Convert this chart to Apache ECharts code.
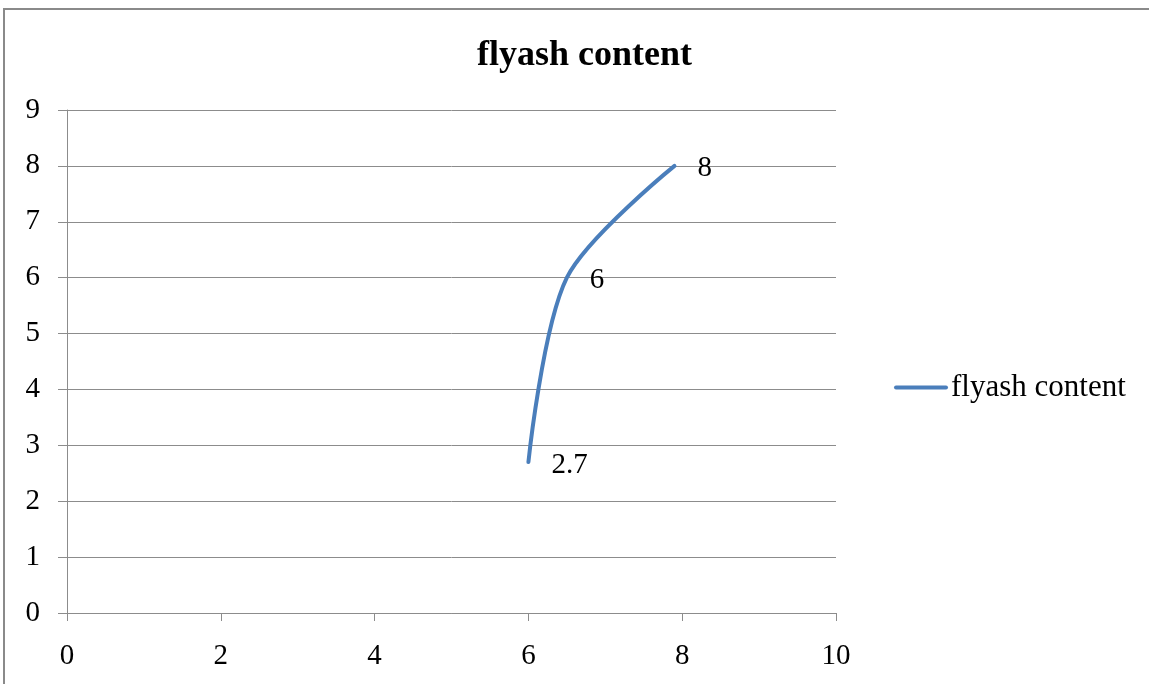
<!DOCTYPE html>
<html>
<head>
<meta charset="utf-8">
<script src="https://cdn.jsdelivr.net/npm/echarts@6/dist/echarts.min.js"></script>
<style>
  html, body { margin: 0; padding: 0; background: #ffffff; }
  #chart { width: 1149px; height: 684px; }
</style>
</head>
<body>
<div id="chart"></div>
<script>
// flyash content curve: x and y values of each point
const seriesName = 'flyash content';
const xValues = [6, 6.5, 7.9];
const yValues = [2.7, 6, 8];
const pointLabels = ['2.7', '6', '8'];

const FONT = '"Liberation Serif", "DejaVu Serif", serif';

const points = xValues.map((x, i) => [x, yValues[i]]);

const chart = echarts.init(document.getElementById('chart'), null, { renderer: 'canvas' });

chart.setOption({
  backgroundColor: '#ffffff',
  animation: false,
  title: {
    text: 'flyash content',
    left: 472,
    top: 33,
    textStyle: { fontFamily: FONT, fontWeight: 'bold', fontSize: 36, color: '#000000' }
  },
  legend: {
    orient: 'vertical',
    left: 889,
    top: 367,
    itemGap: 6,
    textStyle: { fontFamily: FONT, fontSize: 31, color: '#000000', padding: [0, 0, 0, -4] },
    data: [{ name: seriesName, icon: 'path://M2,0 L52,0 A2,2 0 0 1 52,4 L2,4 A2,2 0 0 1 2,0 Z', itemStyle: { color: '#4A7EBB' } }],
    itemWidth: 58,
    itemHeight: 4
  },
  grid: { left: 67, right: 313, top: 110, bottom: 71, containLabel: false },
  xAxis: {
    type: 'value',
    min: 0, max: 10, interval: 2,
    axisLine: { show: true, lineStyle: { color: '#8c8c8c', width: 1 } },
    axisTick: { show: true, inside: false, length: 8, lineStyle: { color: '#8c8c8c' } },
    axisLabel: { fontFamily: FONT, fontSize: 29, color: '#000000', margin: 29 },
    splitLine: { show: false }
  },
  yAxis: {
    type: 'value',
    min: 0, max: 9, interval: 1,
    axisLine: { show: true, lineStyle: { color: '#8c8c8c', width: 1 } },
    axisTick: { show: true, inside: false, length: 9, lineStyle: { color: '#8c8c8c' } },
    axisLabel: { fontFamily: FONT, fontSize: 29, color: '#000000', margin: 27 },
    splitLine: { show: true, lineStyle: { color: '#8c8c8c', width: 1 } }
  },
  graphic: [{
    type: 'rect',
    silent: true,
    shape: { x: 4, y: 9, width: 1200, height: 800 },
    style: { fill: 'none', stroke: '#8a8a8a', lineWidth: 2 }
  }],
  series: [{
    name: seriesName,
    type: 'line',
    data: points,
    smooth: 0.3,
    symbol: 'circle',
    symbolSize: 0,
    showSymbol: true,
    lineStyle: { color: '#4A7EBB', width: 4, cap: 'round' },
    itemStyle: { color: '#4A7EBB' },
    label: {
      show: true,
      position: 'right',
      distance: 23,
      offset: [0, 3],
      fontFamily: FONT,
      fontSize: 29,
      color: '#000000',
      formatter: (p) => pointLabels[p.dataIndex]
    },
    z: 3
  }]
});
</script>
</body>
</html>
